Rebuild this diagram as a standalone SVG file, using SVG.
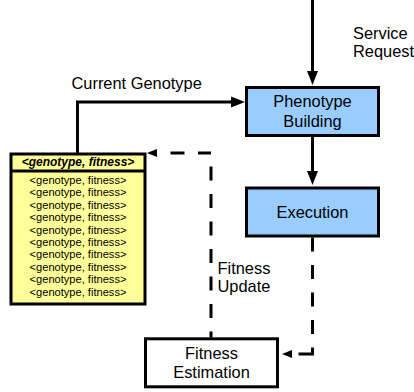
<svg xmlns="http://www.w3.org/2000/svg" width="414" height="392" viewBox="0 0 414 392">
<style>
text{font-family:"Liberation Sans",Arial,sans-serif;fill:#000}
.lbl{font-size:16.4px}
.mid{text-anchor:middle}
.row{font-size:11.1px;text-anchor:middle}
.hdr{font-size:12px;font-weight:bold;font-style:italic;text-anchor:middle}
.box{stroke:#000;stroke-width:3}
.blue{fill:#99CCFF}
.white{fill:#FFFFFF}
.yellow{fill:#FFFF99}
.solid{fill:none;stroke:#000;stroke-width:3}
.dash{fill:none;stroke:#000;stroke-width:3;stroke-dasharray:14 13.5}
</style>
<defs>
<marker id="ah" markerUnits="userSpaceOnUse" markerWidth="14" markerHeight="11" refX="0" refY="5.5" orient="auto" overflow="visible">
<path d="M0,0 L14,5.5 L0,11 Z" fill="#000"/>
</marker>
<marker id="ahd" markerUnits="userSpaceOnUse" markerWidth="10" markerHeight="8" refX="0" refY="4" orient="auto-start-reverse" overflow="visible">
<path d="M0,0 L10,4 L0,8 Z" fill="#000"/>
</marker>
</defs>

<g id="connectors">
<path id="service-request" class="solid" d="M312.5,0 V71" marker-end="url(#ah)"/>
<path id="current-genotype" class="solid" d="M77.5,153 V102 H231" marker-end="url(#ah)"/>
<path id="pheno-exec" class="solid" d="M312.5,137 V171" marker-end="url(#ah)"/>
<path id="exec-fitness" class="dash" d="M312.5,237.5 V355.5 M312.5,354 H292" marker-end="url(#ahd)"/>
<path id="fitness-update" class="dash" style="stroke-dashoffset:14" d="M157,153 H211 M211,153 V337.5" marker-start="url(#ahd)"/>
</g>

<g id="label-current-genotype"><text class="lbl" x="71.5" y="89">Current Genotype</text></g>
<g id="label-service-request"><text class="lbl" x="353" y="38.5">Service</text><text class="lbl" x="353" y="57">Request</text></g>
<g id="label-fitness-update"><text class="lbl" x="217.5" y="274">Fitness</text><text class="lbl" x="217.5" y="292.3">Update</text></g>

<g id="phenotype-building">
<rect class="box blue" x="246.5" y="87.5" width="132" height="48"/>
<text class="lbl mid" x="312.5" y="107">Phenotype</text>
<text class="lbl mid" x="312.5" y="126.5">Building</text>
</g>

<g id="execution">
<rect class="box blue" x="246.5" y="188" width="132" height="48"/>
<text class="lbl mid" x="312.5" y="217.5">Execution</text>
</g>

<g id="fitness-estimation">
<rect class="box white" x="145.5" y="338.8" width="132" height="48"/>
<text class="lbl mid" x="211.5" y="358.8">Fitness</text>
<text class="lbl mid" x="211.5" y="378">Estimation</text>
</g>

<g id="population">
<rect class="box yellow" x="11" y="154" width="134" height="150"/>
<line class="solid" x1="11" y1="171" x2="145" y2="171"/>
<text class="hdr" x="78" y="165.5">&lt;genotype, fitness&gt;</text>
<text class="row" x="78" y="184">&lt;genotype, fitness&gt;</text>
<text class="row" x="78" y="196.4">&lt;genotype, fitness&gt;</text>
<text class="row" x="78" y="208.8">&lt;genotype, fitness&gt;</text>
<text class="row" x="78" y="221.2">&lt;genotype, fitness&gt;</text>
<text class="row" x="78" y="233.6">&lt;genotype, fitness&gt;</text>
<text class="row" x="78" y="246">&lt;genotype, fitness&gt;</text>
<text class="row" x="78" y="258.4">&lt;genotype, fitness&gt;</text>
<text class="row" x="78" y="270.8">&lt;genotype, fitness&gt;</text>
<text class="row" x="78" y="283.2">&lt;genotype, fitness&gt;</text>
<text class="row" x="78" y="295.6">&lt;genotype, fitness&gt;</text>
</g>
</svg>
